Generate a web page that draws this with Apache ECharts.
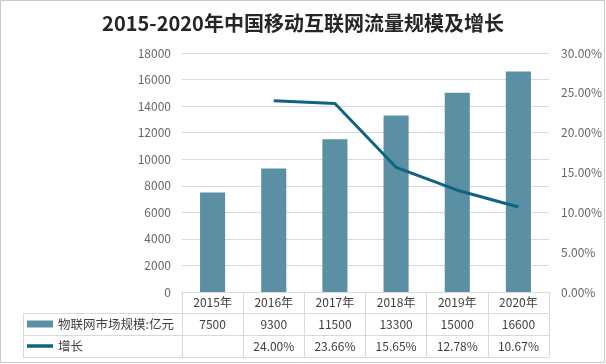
<!DOCTYPE html>
<html>
<head>
<meta charset="utf-8">
<script src="https://cdn.jsdelivr.net/npm/echarts@6/dist/echarts.min.js"></script>
<style>html,body{margin:0;padding:0;background:#fff}#c{width:606px;height:364px}</style>
</head>
<body>
<div id="c"></div>
<script>
var titleText = '2015-2020年中国移动互联网流量规模及增长';
var categories = ['2015年', '2016年', '2017年', '2018年', '2019年', '2020年'];
var barName = '物联网市场规模:亿元';
var barValues = [7500, 9300, 11500, 13300, 15000, 16600];
var lineName = '增长';
var lineValues = [null, 0.2400, 0.2366, 0.1565, 0.1278, 0.1067];

var FONT = '"Noto Sans CJK SC", "Noto Sans", sans-serif';
var pct = function (v) { return v == null ? '' : (v * 100).toFixed(2) + '%'; };

var chart = echarts.init(document.getElementById('c'), null, {renderer: 'canvas'});
var GL = 182, GR = 549, GT = 53, GB = 292;
var tableLine = '#d9d9d9';

var option = {
  backgroundColor: '#fff',
  textStyle: {fontFamily: FONT},
  title: {
    text: titleText, left: 'center', top: 8,
    textStyle: {fontSize: 20, fontWeight: 'bold', color: '#262626', fontFamily: FONT}
  },
  legend: {
    orient: 'vertical', left: 27, top: 317, itemGap: 8, padding: 0,
    itemWidth: 26, itemHeight: 7, symbolKeepAspect: true,
    textStyle: {fontSize: 12.5, color: '#404040', lineHeight: 14, fontFamily: FONT},
    data: [
      {name: barName, icon: 'rect'},
      {name: lineName, icon: 'path://M0,0h26v3.5h-26z'}
    ]
  },
  grid: {left: GL, right: 606 - GR, top: GT, bottom: 364 - GB, containLabel: false},
  xAxis: [
    {
      type: 'category', data: categories, position: 'bottom',
      axisLine: {show: true, lineStyle: {color: tableLine}},
      axisTick: {show: true, interval: 0, length: 65, lineStyle: {color: tableLine}},
      axisLabel: {margin: 4, fontSize: 12, color: '#404040', fontFamily: FONT, interval: 0}
    },
    {
      type: 'category', data: barValues.map(String), position: 'bottom', offset: 22,
      axisLine: {show: false}, axisTick: {show: false},
      axisLabel: {margin: 4, fontSize: 12, color: '#404040', fontFamily: FONT, interval: 0}
    },
    {
      type: 'category', data: lineValues.map(pct), position: 'bottom', offset: 44,
      axisLine: {show: false}, axisTick: {show: false},
      axisLabel: {margin: 4, fontSize: 12, color: '#404040', fontFamily: FONT, interval: 0}
    }
  ],
  yAxis: [
    {
      type: 'value', min: 0, max: 18000, interval: 2000,
      axisLine: {show: false}, axisTick: {show: false},
      axisLabel: {margin: 11, fontSize: 12, color: '#6f6560', fontFamily: FONT,
        formatter: function (v) { return String(v); }},
      splitLine: {lineStyle: {color: '#d9d9d9'}}
    },
    {
      type: 'value', min: 0, max: 0.30, interval: 0.05,
      axisLine: {show: false}, axisTick: {show: false},
      axisLabel: {margin: 12, fontSize: 12, color: '#6f6560', fontFamily: FONT, formatter: pct},
      splitLine: {show: false}
    }
  ],
  series: [
    {
      name: barName, type: 'bar', data: barValues, xAxisIndex: 0, yAxisIndex: 0,
      barWidth: '41%', itemStyle: {color: '#5b8fa4'}
    },
    {
      name: lineName, type: 'line', data: lineValues, xAxisIndex: 0, yAxisIndex: 1,
      symbol: 'none', connectNulls: false,
      lineStyle: {color: '#0f6384', width: 3},
      itemStyle: {color: '#0f6384'}
    }
  ],
  graphic: [
    {type: 'rect', shape: {x: 0.5, y: 0.5, width: 604, height: 362}, style: {fill: null, stroke: '#c8c8c8', lineWidth: 1}, silent: true},
    {type: 'line', shape: {x1: 23, y1: 313.5, x2: GR, y2: 313.5}, style: {stroke: tableLine, lineWidth: 1}},
    {type: 'line', shape: {x1: 23, y1: 335.5, x2: GR, y2: 335.5}, style: {stroke: tableLine, lineWidth: 1}},
    {type: 'line', shape: {x1: 23, y1: 357.5, x2: GR, y2: 357.5}, style: {stroke: tableLine, lineWidth: 1}},
    {type: 'line', shape: {x1: 23.5, y1: 313.5, x2: 23.5, y2: 357.5}, style: {stroke: tableLine, lineWidth: 1}}
  ]
};
chart.setOption(option);
</script>
</body>
</html>
